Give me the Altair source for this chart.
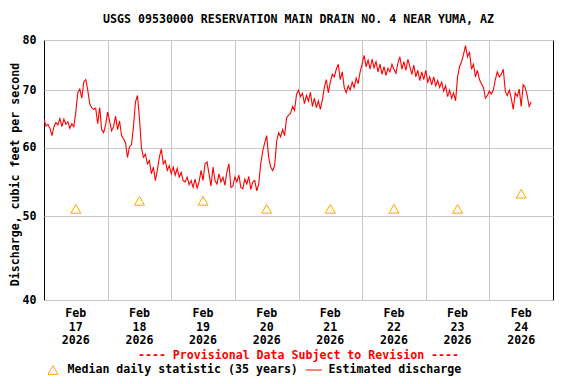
import altair as alt
import pandas as pd

TITLE = "USGS 09530000 RESERVATION MAIN DRAIN NO. 4 NEAR YUMA, AZ"
PROVISIONAL = "---- Provisional Data Subject to Revision ----"
LEGEND_MEDIAN = "Median daily statistic (35 years)"
LEGEND_FLOW = "Estimated discharge"
Y_TITLE = "Discharge, cubic feet per second"

START = "2026-02-17 00:00"
STEP = "45min"

# Discharge (cfs), every 45 minutes from Feb 17 00:00
discharge = [
    64.8, 63.6, 63.9, 63.2, 62.0, 63.5, 64.2, 63.8, 64.9, 63.5, 64.8, 63.9, 64.3, 63.2, 64.0, 63.5,
    66.0, 69.5, 70.2, 68.5, 71.5, 72.0, 70.0, 67.5, 66.8, 66.5, 66.7, 64.0, 66.8, 63.0, 62.5, 63.8,
    66.0, 64.5, 62.8, 63.5, 65.3, 63.0, 64.5, 62.0, 61.5, 60.8, 58.5, 60.2, 60.5, 63.5, 67.8, 69.0,
    65.0, 60.0, 58.5, 59.0, 57.5, 58.0, 56.0, 57.0, 55.0, 56.5, 58.5, 59.8, 57.5, 58.0, 56.5, 57.2,
    56.0, 57.0, 55.8, 56.8, 55.5, 56.2, 55.0, 54.8, 55.5, 54.4, 55.0, 54.0, 55.2, 53.9, 54.8, 56.5,
    55.0, 57.5, 57.8, 56.0, 54.2, 57.0, 55.0, 54.5, 56.0, 54.8, 55.5, 54.3, 56.3, 57.5, 54.0, 54.2,
    55.5, 54.8, 55.8, 54.0, 53.8, 55.2, 54.5, 55.6, 53.7, 54.8, 55.0, 53.5, 54.5, 57.5, 59.5, 60.8,
    62.0, 58.5, 57.0, 56.5, 57.2, 61.0, 62.5, 61.8, 63.0, 62.0, 65.0, 65.5, 65.8, 67.0, 66.3, 69.2,
    70.0, 68.8, 69.4, 67.5, 69.0, 68.0, 69.6, 67.0, 68.5, 66.8, 68.0, 66.5, 68.2, 70.5, 72.0, 69.5,
    71.5, 73.0, 72.5, 74.0, 75.0, 72.0, 73.5, 70.5, 69.5, 70.8, 70.0, 71.5, 70.5, 72.3, 71.2, 73.5,
    75.0, 76.8, 74.5, 75.8, 74.0, 76.0, 74.3, 75.5, 73.5, 75.0, 73.0, 74.5, 72.8, 74.2, 73.5, 75.0,
    74.0, 73.2, 75.2, 76.5, 74.0, 75.5, 73.8, 76.0, 74.5, 73.0, 74.8, 72.5, 73.8, 71.8, 73.5, 72.0,
    73.8, 71.5, 72.5, 71.0, 72.5, 70.8, 71.8, 70.5, 71.5, 69.8, 70.8, 68.8, 70.0, 68.5, 69.5, 68.0,
    72.5, 74.5, 75.5, 77.0, 78.8, 76.5, 77.5, 74.0, 75.0, 72.5, 73.8, 72.0, 71.2, 70.5, 68.5, 69.0,
    69.8, 69.3, 70.0, 72.0, 73.5, 72.5, 73.0, 74.0, 69.8, 69.0, 70.0, 68.5, 66.5, 69.5, 68.8, 70.2,
    67.0, 71.0, 70.5, 69.0, 67.0, 67.8,
]

median_days = ["2026-02-17 12:00", "2026-02-18 12:00", "2026-02-19 12:00", "2026-02-20 12:00",
               "2026-02-21 12:00", "2026-02-22 12:00", "2026-02-23 12:00", "2026-02-24 12:00"]
median_values = [51.0, 52.1, 52.1, 51.0, 51.0, 51.0, 51.0, 53.1]
day_labels = ["Feb\n17\n2026", "Feb\n18\n2026", "Feb\n19\n2026", "Feb\n20\n2026",
              "Feb\n21\n2026", "Feb\n22\n2026", "Feb\n23\n2026", "Feb\n24\n2026"]
grid_dates = [18, 19, 20, 21, 22, 23, 24]
y_ticks = [40, 50, 60, 70, 80]

FONT = "DejaVu Sans Mono"
FS = 11.6

times = pd.date_range(START, periods=len(discharge), freq=STEP)
flow = pd.DataFrame({"time": times, "q": discharge})
med = pd.DataFrame({"time": pd.to_datetime(median_days), "q": median_values})
labels = pd.DataFrame({"time": pd.to_datetime(median_days), "label": day_labels})
one = pd.DataFrame({"k": [0]})

xscale = alt.Scale(domain=[alt.DateTime(year=2026, month=2, date=17),
                           alt.DateTime(year=2026, month=2, date=25)])
yscale = alt.Scale(type="log", domain=[40, 80], nice=False)

xaxis = alt.Axis(values=[alt.DateTime(year=2026, month=2, date=d) for d in grid_dates],
                 labels=False, ticks=False, domain=False, grid=True,
                 gridColor="#c8c8c8", gridWidth=1, gridOpacity=1, title=None)
yaxis = alt.Axis(values=y_ticks, ticks=False, domain=False, grid=True,
                 gridColor="#c8c8c8", gridWidth=1, gridOpacity=1,
                 labelFont=FONT, labelFontSize=FS, labelFontWeight="bold",
                 labelColor="black", labelPadding=8,
                 title=Y_TITLE, titleFont=FONT, titleFontSize=FS,
                 titleFontWeight="bold", titleColor="black",
                 titleX=-29, titleY=134, titleAngle=270, titleAlign="center",
                 titleBaseline="middle")

X = alt.X("time:T", scale=xscale, axis=xaxis)
Y = alt.Y("q:Q", scale=yscale, axis=yaxis)

line = alt.Chart(flow).mark_line(color="#FF0000", strokeWidth=1.1, clip=True).encode(x=X, y=Y)

points = alt.Chart(med).mark_point(shape="triangle-up", filled=False, color="#FFA500",
                                   size=100, strokeWidth=1, opacity=1).encode(x=X, y=Y)

xlabels = alt.Chart(labels).mark_text(font=FONT, fontSize=FS, fontWeight="bold",
                                      color="black", align="center", baseline="top",
                                      lineBreak="\n", lineHeight=13.5).encode(
    x=X,
    y=alt.value(268),
    text="label:N",
)

title = alt.Chart(one).mark_text(text=TITLE, font=FONT, fontSize=FS, fontWeight="bold",
                                 color="black", align="center", baseline="middle").encode(
    x=alt.value(254.5), y=alt.value(-20))

prov = alt.Chart(one).mark_text(text=PROVISIONAL, font=FONT, fontSize=FS, fontWeight="bold",
                                color="#FF0000", align="center", baseline="middle").encode(
    x=alt.value(254.5), y=alt.value(316))

LEG_Y = 330
leg_tri = alt.Chart(one).mark_point(shape="triangle-up", filled=False, color="#FFA500",
                                    size=100, strokeWidth=1, opacity=1).encode(
    x=alt.value(9), y=alt.value(LEG_Y))
leg_t1 = alt.Chart(one).mark_text(text=LEGEND_MEDIAN, font=FONT, fontSize=FS, fontWeight="bold",
                                  color="black", align="left", baseline="middle").encode(
    x=alt.value(23.5), y=alt.value(LEG_Y))
leg_line = alt.Chart(one).mark_rule(color="#FF0000", strokeWidth=1).encode(
    x=alt.value(262), x2=alt.value(278), y=alt.value(LEG_Y))
leg_t2 = alt.Chart(one).mark_text(text=LEGEND_FLOW, font=FONT, fontSize=FS, fontWeight="bold",
                                  color="black", align="left", baseline="middle").encode(
    x=alt.value(284.5), y=alt.value(LEG_Y))

chart = alt.layer(line, points, xlabels, title, prov, leg_tri, leg_t1, leg_line, leg_t2).properties(
    width=509, height=260,
    autosize=alt.AutoSizeParams(type="none"),
    padding={"left": 36, "top": 32, "right": 15, "bottom": 76},
    background="white",
).configure_view(stroke="black", strokeWidth=1)

chart.save("out.html", embed_options={"renderer": "svg", "actions": False})
